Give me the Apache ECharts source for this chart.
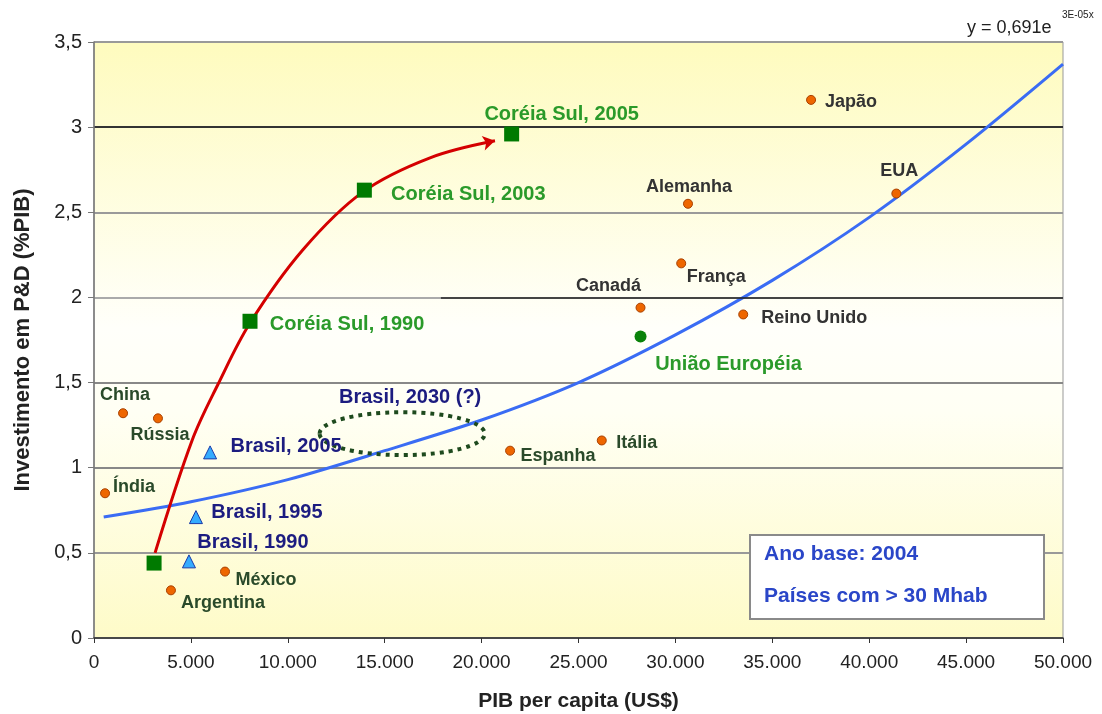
<!DOCTYPE html>
<html>
<head>
<meta charset="utf-8">
<title>Investimento em P&D x PIB per capita</title>
<script src="https://cdn.jsdelivr.net/npm/echarts@6/dist/echarts.min.js"></script>
<style>
    html, body { margin: 0; padding: 0; background: #fff; }
    #main { width: 1102px; height: 714px; }
</style>
</head>
<body>
<div id="main"></div>
<script>
    // países (pontos laranja)
    var countryNames = ['China', 'Rússia', 'Índia', 'Argentina', 'México', 'Espanha', 'Itália',
        'Canadá', 'França', 'Alemanha', 'Reino Unido', 'Japão', 'EUA'];
    var countryX = [1500, 3300, 570, 3970, 6760, 21470, 26200, 28200, 30300, 30650, 33500, 37000, 41400];
    var countryY = [1.32, 1.29, 0.85, 0.28, 0.39, 1.10, 1.16, 1.94, 2.20, 2.55, 1.90, 3.16, 2.61];

    // União Européia
    var euNames = ['União Européia'];
    var euX = [28200];
    var euY = [1.77];

    // Coréia do Sul
    var koreaNames = ['', 'Coréia Sul, 1990', 'Coréia Sul, 2003', 'Coréia Sul, 2005'];
    var koreaX = [3100, 8050, 13950, 21550];
    var koreaY = [0.44, 1.86, 2.63, 2.96];

    // Brasil
    var brasilNames = ['Brasil, 1990', 'Brasil, 1995', 'Brasil, 2005'];
    var brasilX = [4900, 5260, 5990];
    var brasilY = [0.45, 0.71, 1.09];

    // trajetória da Coréia (seta vermelha)
    var pathX = [3150, 5060, 6400, 8050, 10780, 13880, 17340, 20690];
    var pathY = [0.50, 1.16, 1.49, 1.85, 2.28, 2.62, 2.82, 2.92];

    // linha de tendência
    var trendX = [500, 5000, 10000, 15000, 20000, 25000, 30000, 35000, 40000, 45000, 50000];
    var trendY = [0.71, 0.80, 0.93, 1.10, 1.28, 1.50, 1.78, 2.10, 2.47, 2.90, 3.37];

    // Brasil 2030 (?) – elipse: centro x, centro y, raio x, raio y
    var projectionName = 'Brasil, 2030 (?)';
    var projection = [15900, 1.20, 4260, 0.126];

    var boxLines = ['Ano base: 2004', 'Países com > 30 Mhab'];
    var equation = ['y = 0,691e', '3E-05x'];

    // deslocamento dos rótulos em px (centro do texto - ponto)
    var labelOffsets = {
        'China': [2, -18], 'Rússia': [2, 17], 'Índia': [29, -6], 'Argentina': [52, 13],
        'México': [41, 8], 'Espanha': [48, 5], 'Itália': [35, 3], 'Canadá': [-32, -22],
        'França': [35, 14], 'Alemanha': [1, -17], 'Reino Unido': [71, 4], 'Japão': [40, 2],
        'EUA': [3, -23], 'União Européia': [88, 28],
        'Coréia Sul, 1990': [97, 3], 'Coréia Sul, 2003': [104, 4], 'Coréia Sul, 2005': [50, -19],
        'Brasil, 1990': [64, -19], 'Brasil, 1995': [71, -5], 'Brasil, 2005': [76, -6]
    };
    var greenLabels = ['China', 'Rússia', 'Índia', 'Argentina', 'México', 'Espanha', 'Itália'];

    var FONT = '"Liberation Sans", Arial, sans-serif';

    function points(xs, ys, names, color, size) {
        return xs.map(function (x, i) {
            var n = names[i];
            return {
                value: [x, ys[i]],
                name: n,
                label: {
                    show: !!n,
                    position: 'inside',
                    offset: labelOffsets[n] || [0, 0],
                    formatter: n,
                    color: typeof color === 'function' ? color(n) : color,
                    fontFamily: FONT,
                    fontWeight: 'bold',
                    fontSize: size
                }
            };
        });
    }

    function fmtX(v) {
        if (v === 0) return '0';
        var r = String(v % 1000);
        while (r.length < 3) r = '0' + r;
        return Math.floor(v / 1000) + '.' + r;
    }

    var chart = echarts.init(document.getElementById('main'));

    var option = {
        animation: false,
        grid: {
            left: 94, right: 39, top: 42, bottom: 76,
            outerBoundsMode: 'none',
            show: true,
            borderColor: '#999',
            borderWidth: 1,
            backgroundColor: new echarts.graphic.LinearGradient(0, 0, 0, 1, [
                { offset: 0, color: '#fefbbe' },
                { offset: 0.48, color: '#fffffa' },
                { offset: 0.62, color: '#fffff4' },
                { offset: 1, color: '#fefbc8' }
            ])
        },
        xAxis: {
            type: 'value',
            min: 0, max: 50000, interval: 5000,
            name: 'PIB per capita (US$)',
            nameLocation: 'middle',
            nameGap: 53,
            nameTextStyle: { fontFamily: FONT, fontWeight: 'bold', fontSize: 21, color: '#222' },
            axisLine: { lineStyle: { color: '#333', width: 1.5 } },
            axisTick: { length: 5, lineStyle: { color: '#333' } },
            axisLabel: { margin: 15, formatter: fmtX, color: '#222', fontFamily: FONT, fontSize: 19 },
            splitLine: { show: false }
        },
        yAxis: {
            type: 'value',
            min: 0, max: 3.5, interval: 0.5,
            name: 'Investimento em P&D (%PIB)',
            nameLocation: 'middle',
            nameGap: 60,
            nameTextStyle: { fontFamily: FONT, fontWeight: 'bold', fontSize: 22, color: '#222' },
            axisLine: { show: true, lineStyle: { color: '#777', width: 1.5 } },
            axisTick: { show: true, length: 6, lineStyle: { color: '#777' } },
            axisLabel: {
                margin: 12, color: '#222', fontFamily: FONT, fontSize: 20,
                formatter: function (v) { return String(v).replace('.', ','); }
            },
            splitLine: {
                show: true,
                lineStyle: {
                    width: 2,
                    color: ['#888', '#999', '#888', '#888', '#aaa', '#9a9a9a', '#333', '#999']
                }
            }
        },
        graphic: [
            {
                type: 'rect', left: 749, top: 534,
                shape: { width: 294, height: 84 },
                style: { fill: '#fff', stroke: '#8a8a8a', lineWidth: 2 },
                z: 100
            },
            {
                type: 'text', left: 764, top: 544, z: 101,
                style: { text: boxLines[0], fill: '#2a46c8', font: 'bold 21px ' + FONT }
            },
            {
                type: 'text', left: 764, top: 586, z: 101,
                style: { text: boxLines[1], fill: '#2a46c8', font: 'bold 21px ' + FONT }
            },
            {
                type: 'text', left: 967, top: 19, z: 101,
                style: { text: equation[0], fill: '#222', font: '18px ' + FONT }
            },
            {
                type: 'text', left: 1062, top: 10, z: 101,
                style: { text: equation[1], fill: '#222', font: '10px ' + FONT }
            }
        ],
        series: [
            {
                type: 'line',
                name: 'tendência',
                data: trendX.map(function (x, i) { return [x, trendY[i]]; }),
                smooth: 0.3,
                showSymbol: false,
                lineStyle: { color: '#3a6cf4', width: 3 },
                z: 2
            },
            {
                type: 'line',
                name: 'black2',
                data: [],
                markLine: {
                    silent: true,
                    symbol: 'none',
                    lineStyle: { color: '#222', width: 1.5, type: 'solid' },
                    label: { show: false },
                    data: [[{ coord: [17900, 2] }, { coord: [50000, 2] }]]
                },
                z: 1
            },
            {
                type: 'custom',
                name: 'projeção',
                data: [projection],
                renderItem: function (params, api) {
                    var c = api.coord([api.value(0), api.value(1)]);
                    var s = api.size([api.value(2), api.value(3)]);
                    return {
                        type: 'group',
                        children: [
                            {
                                type: 'ellipse',
                                shape: { cx: c[0], cy: c[1], rx: s[0], ry: s[1] },
                                style: { fill: 'none', stroke: '#1e4a1e', lineWidth: 4, lineDash: [4, 5] }
                            },
                            {
                                type: 'text',
                                x: c[0] + 8, y: c[1] - 36,
                                style: {
                                    text: projectionName, align: 'center', verticalAlign: 'middle',
                                    fill: '#1c1c80', font: 'bold 20px ' + FONT
                                }
                            }
                        ]
                    };
                },
                z: 3
            },
            {
                type: 'line',
                name: 'trajetória',
                data: pathX.map(function (x, i) {
                    var last = i === pathX.length - 1;
                    return {
                        value: [x, pathY[i]],
                        symbol: last ? 'arrow' : 'none',
                        symbolSize: last ? [11, 12] : 0,
                        symbolRotate: last ? -78 : 0
                    };
                }),
                smooth: 0.35,
                showSymbol: true,
                itemStyle: { color: '#d40000' },
                lineStyle: { color: '#d40000', width: 3 },
                z: 4
            },
            {
                type: 'scatter',
                name: 'países',
                data: points(countryX, countryY, countryNames, function (n) {
                    return greenLabels.indexOf(n) >= 0 ? '#2a4a2a' : '#333';
                }, 18),
                symbol: 'circle',
                symbolSize: 9,
                itemStyle: { color: '#ee6600', borderColor: '#a84000', borderWidth: 1, opacity: 1 },
                z: 5
            },
            {
                type: 'scatter',
                name: 'UE',
                data: points(euX, euY, euNames, '#2a9a2a', 20),
                symbol: 'circle',
                symbolSize: 12,
                itemStyle: { color: '#0a820a', opacity: 1 },
                z: 5
            },
            {
                type: 'scatter',
                name: 'Coréia',
                data: points(koreaX, koreaY, koreaNames, '#2a9a2a', 20),
                symbol: 'rect',
                symbolSize: 15,
                itemStyle: { color: '#007a00', opacity: 1 },
                z: 6
            },
            {
                type: 'scatter',
                name: 'Brasil',
                data: points(brasilX, brasilY, brasilNames, '#1c1c80', 20),
                symbol: 'triangle',
                symbolSize: 13,
                itemStyle: { color: '#35acff', borderColor: '#1a3aa8', borderWidth: 1, opacity: 1 },
                z: 6
            }
        ]
    };

    chart.setOption(option);
</script>
</body>
</html>
